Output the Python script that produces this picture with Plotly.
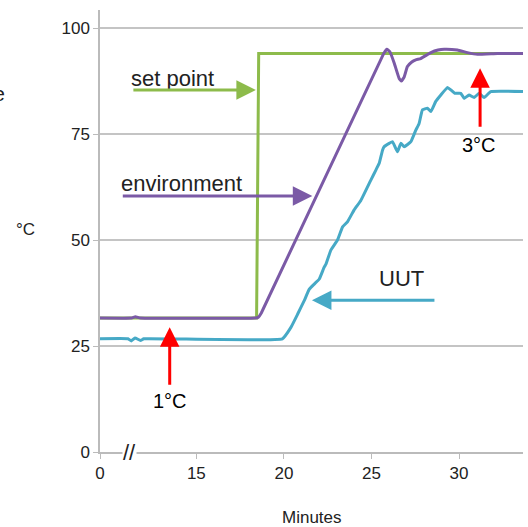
import plotly.graph_objects as go

# Display minutes (left axis edge labelled "0", then axis break)
setpoint_x = [9.5, 18.44, 18.56, 33.65]
setpoint_y = [31.6, 31.6, 94.0, 94.0]

env_x = [9.5, 11.3, 11.52, 11.81, 18.37, 18.54, 18.71, 25.7, 25.88, 26.05, 26.3, 26.58, 26.71,
         26.87, 27.05, 27.3, 27.53, 27.81, 28.39, 28.8, 29.15, 29.91, 30.48, 31.05, 32.19, 33.65]
env_y = [31.6, 31.6, 31.9, 31.6, 31.6, 31.8, 32.8, 94.0, 95.0, 94.4, 91.7, 88.1, 87.5,
         88.5, 90.9, 92.0, 92.5, 92.8, 94.2, 94.8, 95.0, 94.8, 94.2, 93.8, 94.0, 94.0]

uut_x = [9.5, 11.1, 11.29, 11.5, 11.81, 12.0, 19.91, 20.40, 20.78, 21.16, 21.45, 21.73, 22.02,
         22.30, 22.40, 22.68, 23.06, 23.35, 23.63, 24.01, 24.40, 24.97, 25.25, 25.44, 25.63,
         25.72, 26.01, 26.20, 26.48, 26.68, 26.87, 27.25, 27.53, 27.72, 27.91, 28.19, 28.39,
         28.67, 28.96, 29.34, 29.53, 29.76, 30.10, 30.29, 30.57, 30.86, 31.14, 31.43, 31.81, 33.65]
uut_y = [26.7, 26.7, 26.2, 26.9, 26.3, 26.7, 26.7, 29.4, 32.5, 35.7, 38.4, 39.6, 40.8,
         43.6, 44.3, 47.6, 50.0, 53.1, 54.3, 57.1, 59.4, 64.2, 66.5, 68.1, 71.2,
         72.0, 72.8, 73.2, 70.8, 72.8, 72.0, 73.2, 75.9, 77.5, 80.7, 81.1, 80.3,
         82.7, 84.2, 86.0, 85.4, 84.6, 84.6, 83.4, 84.2, 83.6, 84.6, 83.6, 85.0, 85.0]

x_tickvals = [9.5, 15, 20, 25, 30]
x_ticktext = ["0", "15", "20", "25", "30"]
y_tickvals = [0, 25, 50, 75, 100]

GREEN = "#8dbb4b"
PURPLE = "#7b5aa6"
BLUE = "#46a9c6"
RED = "#ff0000"
FONT = "Liberation Sans, Arial, Helvetica, sans-serif"

fig = go.Figure()
fig.add_trace(go.Scatter(x=setpoint_x, y=setpoint_y, mode="lines",
                         line=dict(color=GREEN, width=3), name="set point"))
fig.add_trace(go.Scatter(x=uut_x, y=uut_y, mode="lines",
                         line=dict(color=BLUE, width=3, shape="spline", smoothing=0.3), name="UUT"))
fig.add_trace(go.Scatter(x=env_x, y=env_y, mode="lines",
                         line=dict(color=PURPLE, width=3, shape="spline", smoothing=0.3), name="environment"))

ann = []
# labels
ann.append(dict(x=11.17, y=88.0, text="set point", showarrow=False, xanchor="left",
                font=dict(size=22, color="#222")))
ann.append(dict(x=10.6, y=63.4, text="environment", showarrow=False, xanchor="left",
                font=dict(size=22, color="#222")))
ann.append(dict(x=25.34, y=41.0, text="UUT", showarrow=False, xanchor="left",
                font=dict(size=22, color="#222")))
ann.append(dict(x=13.52, y=12.0, text="1°C", showarrow=False,
                font=dict(size=20, color="#000")))
ann.append(dict(x=31.14, y=72.4, text="3°C", showarrow=False,
                font=dict(size=20, color="#000")))
# arrows
ann.append(dict(x=18.40, y=85.4, ax=-124, ay=0, text="", showarrow=True, arrowhead=2,
                arrowsize=1.3, arrowwidth=3, arrowcolor=GREEN))
ann.append(dict(x=21.62, y=60.4, ax=-191, ay=0, text="", showarrow=True, arrowhead=2,
                arrowsize=1.3, arrowwidth=3, arrowcolor=PURPLE))
ann.append(dict(x=21.60, y=35.8, ax=124, ay=0, text="", showarrow=True, arrowhead=2,
                arrowsize=1.3, arrowwidth=3, arrowcolor=BLUE))
ann.append(dict(x=13.48, y=29.4, ax=0, ay=59, text="", showarrow=True, arrowhead=2,
                arrowsize=1.3, arrowwidth=3, arrowcolor=RED))
ann.append(dict(x=31.20, y=90.5, ax=0, ay=60, text="", showarrow=True, arrowhead=2,
                arrowsize=1.3, arrowwidth=3, arrowcolor=RED))
# axis break mark
ann.append(dict(x=11.18, y=0, text="//", showarrow=False, bgcolor="white",
                font=dict(size=22, color="#222"), borderpad=0))
# axis titles
ann.append(dict(xref="paper", yref="paper", x=0.5, y=-0.149, text="Minutes", showarrow=False,
                xanchor="center", yanchor="middle", font=dict(size=17, color="#222")))
ann.append(dict(xref="paper", yref="paper", x=-0.176, y=0.5045, text="°C", showarrow=False,
                xanchor="center", yanchor="middle", font=dict(size=17, color="#222")))
ann.append(dict(xref="paper", yref="paper", x=-0.221, y=0.812, text="Temperature", showarrow=False,
                xanchor="right", yanchor="middle", font=dict(size=21, color="#222")))

fig.update_layout(
    width=528, height=527,
    margin=dict(l=100, r=5, t=10, b=75),
    paper_bgcolor="white", plot_bgcolor="white",
    showlegend=False,
    font=dict(family=FONT, size=17, color="#222"),
    annotations=ann,
)
fig.update_xaxes(range=[9.5, 33.65], tickvals=x_tickvals, ticktext=x_ticktext,
                 showgrid=False, zeroline=False, showline=True, linecolor="#bbbbbb", linewidth=1.5,
                 ticks="outside", ticklen=5, tickcolor="#bbbbbb", tickfont=dict(size=17))
fig.update_yaxes(range=[0, 104.25], tickvals=y_tickvals,
                 showgrid=True, gridcolor="#c4c4c4", gridwidth=1.5, zeroline=False,
                 showline=True, linecolor="#bbbbbb", linewidth=1.5,
                 ticks="outside", ticklen=5, tickcolor="#bbbbbb", tickfont=dict(size=17))

fig.write_html("out.html", config={"displayModeBar": False},
               post_script="document.body.style.margin='0';")
